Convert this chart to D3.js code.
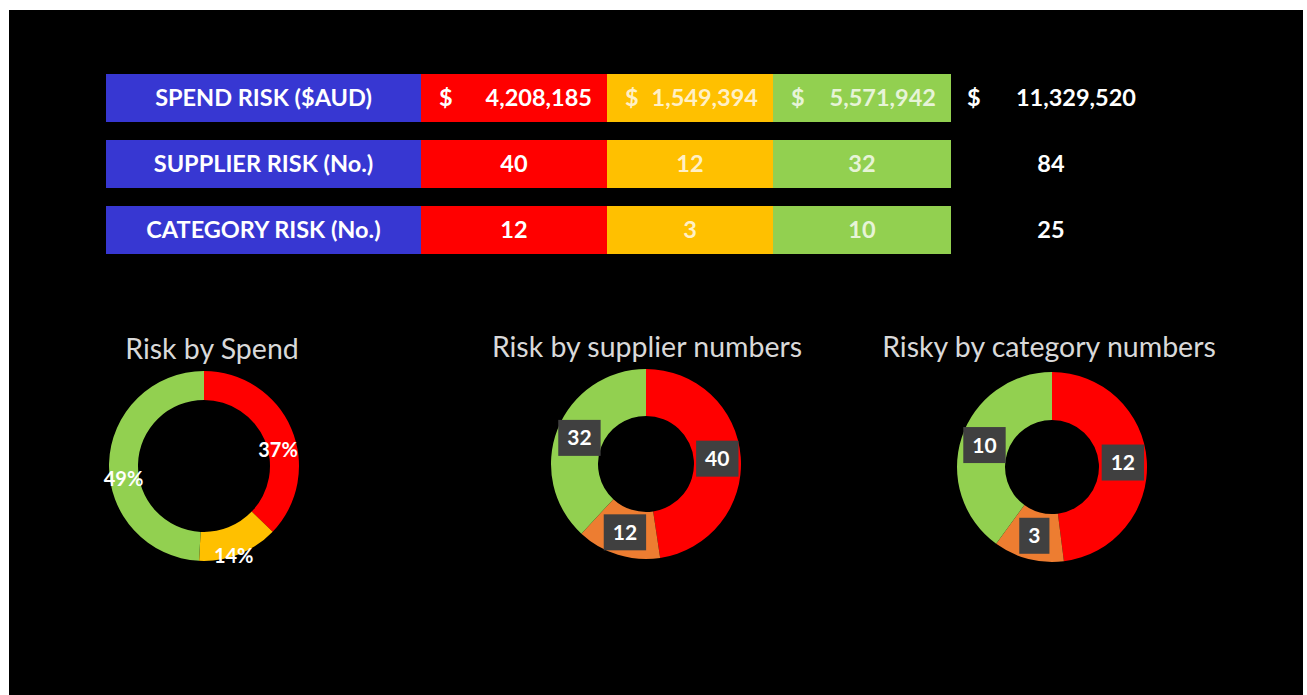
<!DOCTYPE html>
<html>
<head>
<meta charset="utf-8">
<script src="https://cdn.jsdelivr.net/npm/d3@7"></script>
<style>
  html, body { margin: 0; padding: 0; background: #ffffff; }
  svg { display: block; }
</style>
</head>
<body>
<svg id="chart" width="1307" height="695"></svg>
<script>
// Risk levels and the three risk measures
const riskLevels = ["High", "Medium", "Low"];
const rowLabels = ["SPEND RISK ($AUD)", "SUPPLIER RISK (No.)", "CATEGORY RISK (No.)"];
const spendRisk = [4208185, 1549394, 5571942];
const supplierRisk = [40, 12, 32];
const categoryRisk = [12, 3, 10];
const rowTotals = [11329520, 84, 25];
const donutTitles = ["Risk by Spend", "Risk by supplier numbers", "Risky by category numbers"];

const svg = d3.select("#chart");
const fmt = d3.format(",");

// dark canvas
svg.append("rect").attr("x", 9).attr("y", 10).attr("width", 1294).attr("height", 685).attr("fill", "#000");

// ---------- summary table ----------
const rowData = [spendRisk, supplierRisk, categoryRisk];
const y = d3.scaleBand().domain(d3.range(rowLabels.length)).range([74, 254]).paddingInner(18 / 66).paddingOuter(0);

const colKeys = ["label"].concat(riskLevels).concat(["total"]);
const colX = d3.scaleOrdinal().domain(colKeys).range([106, 421, 607, 773, 951]);
const colW = d3.scaleOrdinal().domain(colKeys).range([315, 186, 166, 178, 200]);
const cellFill = d3.scaleOrdinal().domain(colKeys).range(["#3737d2", "#ff0000", "#ffc000", "#92d050", "none"]);
const cellText = d3.scaleOrdinal().domain(riskLevels).range(["#ffffff", "#fff6dc", "#f1f8e6"]);

const rows = svg.append("g").selectAll("g.row").data(rowLabels).join("g")
  .attr("class", "row")
  .attr("transform", (d, i) => `translate(0,${y(i)})`);

const bh = y.bandwidth();
const textFont = "Lato, 'Open Sans', sans-serif";
const tableSize = 23.5;

rows.each(function (label, i) {
  const g = d3.select(this);
  // label cell
  g.append("rect").attr("x", colX("label")).attr("width", colW("label")).attr("height", bh).attr("fill", cellFill("label"));
  g.append("text")
    .attr("x", colX("label") + colW("label") / 2).attr("y", bh / 2)
    .attr("dy", "0.36em").attr("text-anchor", "middle")
    .attr("font-family", textFont).attr("font-weight", 700).attr("font-size", tableSize)
    .attr("fill", "#ffffff").text(label);

  riskLevels.forEach((lvl, j) => {
    const v = rowData[i][j];
    g.append("rect").attr("x", colX(lvl)).attr("width", colW(lvl)).attr("height", bh).attr("fill", cellFill(lvl));
    const t = g.append("g").attr("font-family", textFont).attr("font-weight", 700).attr("font-size", tableSize)
      .attr("fill", cellText(lvl)).attr("opacity", j === 0 ? 1 : 0.9);
    if (i === 0) {
      t.append("text").attr("x", colX(lvl) + 18).attr("y", bh / 2).attr("dy", "0.36em").text("$");
      t.append("text").attr("x", colX(lvl) + colW(lvl) - 15).attr("y", bh / 2).attr("dy", "0.36em")
        .attr("text-anchor", "end").text(fmt(v));
    } else {
      t.append("text").attr("x", colX(lvl) + colW(lvl) / 2).attr("y", bh / 2).attr("dy", "0.36em")
        .attr("text-anchor", "middle").text(fmt(v));
    }
  });

  // totals column
  const tg = g.append("g").attr("font-family", textFont).attr("font-weight", 700).attr("font-size", tableSize).attr("fill", "#ffffff");
  if (i === 0) {
    tg.append("text").attr("x", colX("total") + 16).attr("y", bh / 2).attr("dy", "0.36em").text("$");
    tg.append("text").attr("x", colX("total") + 185).attr("y", bh / 2).attr("dy", "0.36em")
      .attr("text-anchor", "end").text(fmt(rowTotals[i]));
  } else {
    tg.append("text").attr("x", colX("total") + 100).attr("y", bh / 2).attr("dy", "0.36em")
      .attr("text-anchor", "middle").text(fmt(rowTotals[i]));
  }
});

// ---------- donut charts ----------
const donuts = [
  { values: spendRisk, cx: 204, cy: 466, inner: 66, outer: 95, colors: ["#ff0000", "#ffc000", "#92d050"], pct: true, titleX: 212, titleY: 359 },
  { values: supplierRisk, cx: 646, cy: 464, inner: 48, outer: 95, colors: ["#ff0000", "#ed7d31", "#92d050"], pct: false, titleX: 647, titleY: 357 },
  { values: categoryRisk, cx: 1052, cy: 467, inner: 47, outer: 95, colors: ["#ff0000", "#ed7d31", "#92d050"], pct: false, titleX: 1049, titleY: 357 }
];

const pie = d3.pie().sort(null).value(d => d);

donuts.forEach((dn, k) => {
  const g = svg.append("g").attr("transform", `translate(${dn.cx},${dn.cy})`);
  const color = d3.scaleOrdinal().domain(riskLevels).range(dn.colors);
  const arc = d3.arc().innerRadius(dn.inner).outerRadius(dn.outer);
  const labelArc = d3.arc().innerRadius((dn.inner + dn.outer) / 2).outerRadius((dn.inner + dn.outer) / 2);
  const arcs = pie(dn.values);
  const total = d3.sum(dn.values);

  g.selectAll("path").data(arcs).join("path")
    .attr("d", arc)
    .attr("fill", (d, i) => color(riskLevels[i]));

  svg.append("text")
    .attr("x", dn.titleX).attr("y", dn.titleY)
    .attr("text-anchor", "middle")
    .attr("font-family", textFont).attr("font-size", 28.5)
    .attr("fill", "#d9d9d9")
    .text(donutTitles[k]);

  if (dn.pct) {
    g.selectAll("text.pct").data(arcs).join("text")
      .attr("class", "pct")
      .attr("transform", d => { const c = labelArc.centroid(d); return `translate(${c[0]},${c[1] + 15})`; })
      .attr("text-anchor", "middle").attr("dy", "0.36em")
      .attr("font-family", textFont).attr("font-weight", 700).attr("font-size", 20)
      .attr("fill", "#ffffff")
      .text(d => d3.format(".0%")(d.value / total));
  } else {
    const lg = g.selectAll("g.lbl").data(arcs).join("g")
      .attr("class", "lbl")
      .attr("transform", d => { const c = labelArc.centroid(d); return `translate(${c[0]},${c[1]})`; });
    lg.append("rect").attr("fill", "#404040");
    lg.append("text")
      .attr("text-anchor", "middle").attr("dy", "0.36em")
      .attr("font-family", textFont).attr("font-weight", 700).attr("font-size", 21)
      .attr("fill", "#ffffff")
      .text(d => fmt(d.value));
    lg.each(function () {
      const gg = d3.select(this);
      const w = gg.select("text").node().getComputedTextLength();
      gg.select("rect").attr("x", -w / 2 - 9).attr("y", -18).attr("width", w + 18).attr("height", 36);
    });
  }
});
</script>
</body>
</html>
